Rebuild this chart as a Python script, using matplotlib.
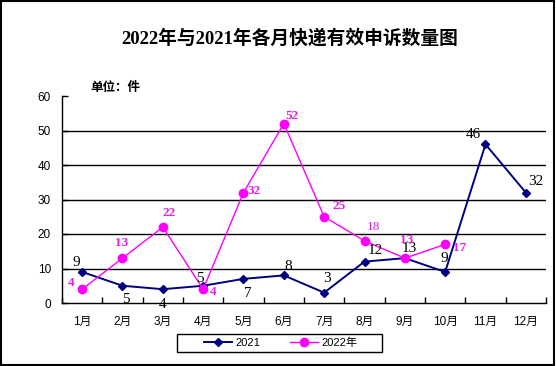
import matplotlib
matplotlib.use("Agg")
import matplotlib.pyplot as plt
from matplotlib.patches import Rectangle

plt.rcParams['font.family'] = ['Liberation Sans', 'Noto Sans CJK SC']

months = ["1月", "2月", "3月", "4月", "5月", "6月", "7月", "8月", "9月", "10月", "11月", "12月"]
v2021 = [9, 5, 4, 5, 7, 8, 3, 12, 13, 9, 46, 32]
v2022 = [4, 13, 22, 4, 32, 52, 25, 18, 13, 17]
title = "2022年与2021年各月快递有效申诉数量图"
unit = "单位：件"
yticks = [0, 10, 20, 30, 40, 50, 60]

# label offsets in pixels (dx, dy)
off2021 = [(-6, 9), (3, -14), (0, -15), (-3, 7), (4, -15), (4, 9), (3, 14), (11, 11), (4, 10), (-1, 13), (-12, 10), (10, 11)]
off2022 = [(-11, 6), (-1, 15), (6, 14), (10, -3), (11, 2), (8, 8), (15, 11), (9, 14), (2, 18), (14, -4)]

fig = plt.figure(figsize=(5.56, 3.66), dpi=100)
ax = fig.add_axes([62/556, 1-303/366, 484/556, 207/366])

x1 = list(range(len(v2021)))
x2 = list(range(len(v2022)))
ax.plot(x1, v2021, color='#000080', lw=1.4, marker='D', ms=4, label='2021', zorder=3)
ax.plot(x2, v2022, color='#FF00FF', lw=1.0, marker='o', ms=6, label='2022年', zorder=3)

for x, v, (dx, dy) in zip(x1, v2021, off2021):
    ax.annotate(str(v), (x, v), xytext=(dx, dy), textcoords='offset pixels',
                ha='center', va='center', fontsize=11, color='black',
                family=['Liberation Serif'], zorder=4)
for i, (x, v, (dx, dy)) in enumerate(zip(x2, v2022, off2022)):
    ax.annotate(str(v), (x, v), xytext=(dx, dy), textcoords='offset pixels',
                ha='center', va='center', fontsize=9.5, color='#E020E0',
                fontweight='normal' if i == 7 else 'bold',
                family=['Liberation Serif'], zorder=4)

ax.set_xlim(-0.5, len(months) - 0.5)
ax.set_ylim(0, 60)
ax.set_yticks(yticks)
ax.set_yticklabels([str(t) for t in yticks], fontsize=8.5)
ax.set_xticks(range(len(months)))
ax.set_xticklabels(months, fontsize=8.5)
ax.set_xticks([i - 0.5 for i in range(len(months) + 1)], minor=True)
ax.tick_params(axis='x', which='major', length=0, pad=9)
ax.tick_params(axis='x', which='minor', direction='in', length=4, width=1)
ax.tick_params(axis='y', direction='in', length=4, width=1, pad=8)
for t in yticks[1:-1]:
    ax.axhline(t, color='black', lw=1.0, zorder=1)
for s in ['top', 'right']:
    ax.spines[s].set_visible(False)
for s in ['left', 'bottom']:
    ax.spines[s].set_linewidth(1.0)

fig.text(290/556, 1-38/366, title, ha='center', va='center', fontsize=13.5,
         fontweight='bold', family=['Liberation Serif', 'Noto Sans CJK SC'])
fig.text(115/556, 1-87/366, unit, ha='center', va='center', fontsize=9,
         fontweight='bold', family=['Noto Sans CJK SC'])

leg = fig.legend(loc='center', bbox_to_anchor=(281/556, 1-343/366), ncol=2,
                 frameon=False, fontsize=8, handlelength=2.5,
                 columnspacing=2.7, borderpad=0.0, handletextpad=0.3,
                 borderaxespad=0)
fig.patches.append(Rectangle((177/556, 1-352/366), 205/556, 18/366,
                             transform=fig.transFigure, fill=False,
                             edgecolor='black', lw=1.0))

fig.patches.append(Rectangle((0.002, 0.003), 0.995, 0.994, transform=fig.transFigure,
                             fill=False, edgecolor='black', lw=1.5))

fig.savefig('out.png', dpi=100)
